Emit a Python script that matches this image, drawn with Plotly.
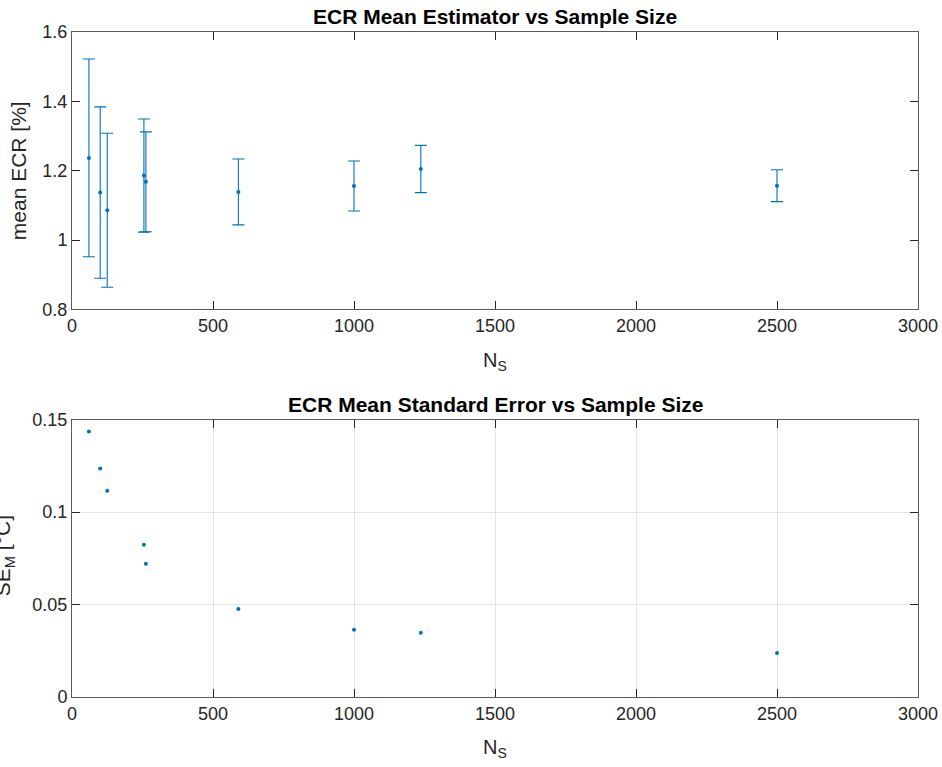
import plotly.graph_objects as go
from plotly.subplots import make_subplots

sample_size = [60, 100, 125, 255, 262, 590, 1000, 1237, 2500]
mean_ecr = [1.237, 1.137, 1.086, 1.186, 1.168, 1.139, 1.156, 1.205, 1.157]
ecr_err = [0.285, 0.247, 0.222, 0.163, 0.144, 0.095, 0.072, 0.068, 0.046]
se_mean = [0.1435, 0.1235, 0.1115, 0.0823, 0.072, 0.0476, 0.0363, 0.0347, 0.0238]

blue = "#0072BD"
axcol = "#5a5a5a"
txt = "#262626"
font = "Liberation Sans, Arial, sans-serif"

fig = make_subplots(rows=2, cols=1, vertical_spacing=0.1655)

fig.add_trace(go.Scatter(
    x=sample_size, y=mean_ecr, mode="markers",
    marker=dict(color=blue, size=4),
    error_y=dict(type="data", array=ecr_err, visible=True, color=blue,
                 thickness=1.1, width=6),
    showlegend=False), row=1, col=1)

fig.add_trace(go.Scatter(
    x=sample_size, y=se_mean, mode="markers",
    marker=dict(color=blue, size=4), showlegend=False), row=2, col=1)

common_axis = dict(showline=True, linecolor=axcol, linewidth=1, mirror="ticks",
                   ticks="inside", ticklen=8, tickcolor=txt, automargin=False,
                   tickfont=dict(family=font, size=18, color=txt),
                   zeroline=False)

fig.update_xaxes(**common_axis, range=[0, 3000], tickvals=[0, 500, 1000, 1500, 2000, 2500, 3000],
                 title=dict(text="N<sub>S</sub>", font=dict(family=font, size=20, color=txt), standoff=17))
fig.update_xaxes(showgrid=False, row=1, col=1)
fig.update_xaxes(showgrid=True, gridcolor="#e3e3e3", row=2, col=1)

fig.update_yaxes(**common_axis)
fig.update_yaxes(range=[0.8, 1.6], tickvals=[0.8, 1, 1.2, 1.4, 1.6], ticktext=["0.8", "1", "1.2", "1.4", "1.6"],
                 showgrid=False,
                 title=dict(text="mean ECR [%]", font=dict(family=font, size=21, color=txt), standoff=10),
                 row=1, col=1)
fig.update_yaxes(range=[0, 0.15], tickvals=[0, 0.05, 0.1, 0.15], ticktext=["0", "0.05", "0.1", "0.15"],
                 showgrid=True, gridcolor="#e3e3e3", row=2, col=1)

fig.add_annotation(text="SE<sub>M</sub> [°C]", xref="paper", yref="paper",
                   x=-0.08, y=0.212, xanchor="center", yanchor="middle", textangle=-90,
                   showarrow=False, font=dict(family=font, size=21, color=txt))

fig.add_annotation(text="<b>ECR Mean Estimator vs Sample Size</b>", xref="paper", yref="paper",
                   x=0.5, y=1.0, yshift=16, xanchor="center", yanchor="middle", showarrow=False,
                   font=dict(family=font, size=21, color="#000000"))
fig.add_annotation(text="<b>ECR Mean Standard Error vs Sample Size</b>", xref="paper", yref="paper",
                   x=0.5, y=0.4165, yshift=16, xanchor="center", yanchor="middle", showarrow=False,
                   font=dict(family=font, size=21, color="#000000"))

fig.update_layout(width=942, height=767, margin=dict(l=72, r=24, t=32, b=70),
                  plot_bgcolor="white", paper_bgcolor="white")

fig.write_html("out.html", config={"displayModeBar": False},
               post_script="document.body.style.margin='0';document.body.style.overflow='hidden';")
